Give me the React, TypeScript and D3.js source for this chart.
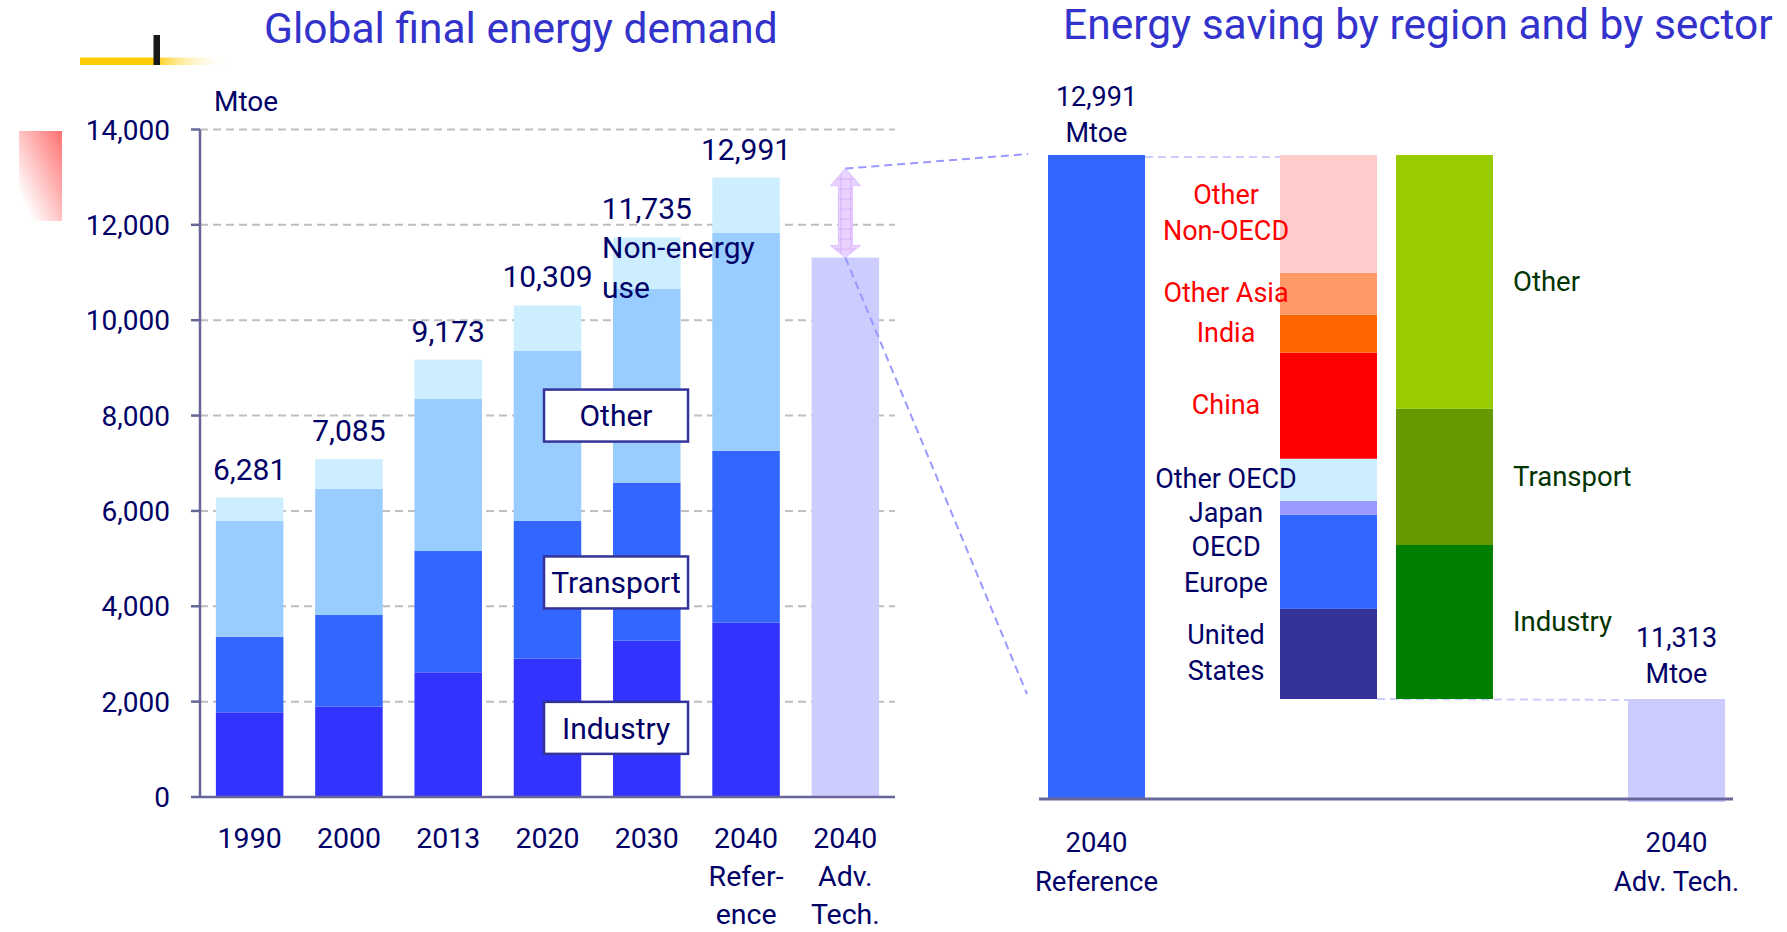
import * as d3 from 'd3';

// left chart: global final energy demand (Mtoe)
const years = ['1990', '2000', '2013', '2020', '2030', '2040R', '2040A'];
const xLabels = [['1990'], ['2000'], ['2013'], ['2020'], ['2030'], ['2040', 'Refer-', 'ence'], ['2040', 'Adv.', 'Tech.']];
const sectors = ['Industry', 'Transport', 'Other', 'Non-energy use'];
const industry = [1776, 1894, 2615, 2901, 3278, 3656];
const transport = [1586, 1923, 2544, 2888, 3308, 3607];
const other = [2427, 2649, 3188, 3565, 4068, 4566];
const nonEnergy = [492, 619, 826, 955, 1081, 1162];
const totals = [6281, 7085, 9173, 10309, 11735, 12991];
const advTech = 11313;
const yTicks = [0, 2000, 4000, 6000, 8000, 10000, 12000, 14000];
const sectorColors = ['#3333ff', '#3366ff', '#99ccff', '#cceeff'];

// right chart: energy saving 2040 reference -> advanced technologies
const regions = ['United States', 'OECD Europe', 'Japan', 'Other OECD', 'China', 'India', 'Other Asia', 'Other Non-OECD'];
const regionLines = [['United', 'States'], ['OECD', 'Europe'], ['Japan'], ['Other OECD'], ['China'], ['India'], ['Other Asia'], ['Other', 'Non-OECD']];
const regionSaving = [278, 290, 43, 130, 327, 117, 130, 363];
const regionColors = ['#333399', '#3366ff', '#9999ff', '#cceeff', '#ff0000', '#ff6600', '#ff9966', '#ffcccc'];
const regionTextColors = ['#000066', '#000066', '#000066', '#000066', '#ff0000', '#ff0000', '#ff0000', '#ff0000'];
const savingSectors = ['Industry', 'Transport', 'Other'];
const sectorSaving = [475, 420, 783];
const savingColors = ['#008000', '#669900', '#99cc00'];

const navy = '#000066';
const font = 'Roboto, "Open Sans", sans-serif';

export default function App() {
  const W = 1787, H = 932;

  // ---- left scales
  const xL = d3.scaleBand().domain(years).range([200, 895]).paddingInner(0.32).paddingOuter(0.16);
  const yL = d3.scaleLinear().domain([0, 14000]).range([797, 129.5]);
  const bw = xL.bandwidth();

  const rows = totals.map((t, i) => ({
    year: years[i],
    Industry: industry[i],
    Transport: transport[i],
    Other: other[i],
    'Non-energy use': nonEnergy[i],
  }));
  const stacked = d3.stack().keys(sectors)(rows as any);

  // ---- right scales
  const refTotal = totals[totals.length - 1];
  const xR = d3.scaleBand().domain(['ref', 'g1', 'region', 'sector', 'g2', 'adv']).range([1048, 1725]).paddingInner(0.164).paddingOuter(0);
  const yR = d3.scaleLinear().domain([advTech, refTotal]).range([699, 155]);
  const bwR = xR.bandwidth();
  const baseR = 799;

  const regionTop = d3.cumsum(regionSaving);
  const sectorTop = d3.cumsum(sectorSaving);

  // region label baselines: centred on segment, pushed down top-to-bottom so they don't collide
  const lineH = 36;
  const labelY: number[][] = [];
  let lastBase = -Infinity;
  for (let i = regions.length - 1; i >= 0; i--) {
    const y0 = yR(advTech + regionTop[i] - regionSaving[i]);
    const y1 = yR(advTech + regionTop[i]);
    const n = regionLines[i].length;
    let first = (y0 + y1) / 2 + 8 - (n - 1) * lineH / 2;
    if (first < lastBase + 34) first = lastBase + 34;
    labelY[i] = regionLines[i].map((_, j) => first + j * lineH);
    lastBase = first + (n - 1) * lineH;
  }

  const advX = xL('2040A')! + bw / 2;
  const arrowTop = yL(refTotal) - 9;
  const arrowBot = yL(advTech);
  const arrow = `M${advX},${arrowTop} L${advX + 15},${arrowTop + 17} L${advX + 7},${arrowTop + 17} L${advX + 7},${arrowBot - 12} L${advX + 15},${arrowBot - 12} L${advX},${arrowBot} L${advX - 15},${arrowBot - 12} L${advX - 7},${arrowBot - 12} L${advX - 7},${arrowTop + 17} L${advX - 15},${arrowTop + 17} Z`;

  const boxCx = xL('2030')! + 3;
  const boxes = [
    { label: sectors[2], v: 8000 },
    { label: sectors[1], v: 4500 },
    { label: sectors[0], v: 1450 },
  ];

  return (
    <svg width={W} height={H} style={{ position: 'absolute', left: 0, top: 0, display: 'block', background: '#fff' }} fontFamily={font}>
      <defs>
        <linearGradient id="yellowBar" x1="0" x2="1" y1="0" y2="0">
          <stop offset="0" stopColor="#ffcc00" />
          <stop offset="0.48" stopColor="#ffcc00" />
          <stop offset="1" stopColor="#ffffff" stopOpacity="0" />
        </linearGradient>
        <linearGradient id="pinkBox" x1="1" y1="0" x2="0" y2="1">
          <stop offset="0" stopColor="#ff7070" />
          <stop offset="0.85" stopColor="#ffffff" />
        </linearGradient>
        <pattern id="hatch" width="10" height="10" patternUnits="userSpaceOnUse" x={advX - 5} y={arrowTop}>
          <rect width="10" height="10" fill="#e8d2ff" />
          <path d="M0 0H10M0 0V10" stroke="#d2a8f6" strokeWidth="1.5" />
        </pattern>
      </defs>

      {/* slide decorations */}
      <rect x={80} y={57.5} width={150} height={7.5} fill="url(#yellowBar)" />
      <rect x={153.5} y={35} width={6.5} height={30} fill="#1a1a1a" />
      <rect x={19} y={131} width={43} height={90} fill="url(#pinkBox)" />

      {/* titles */}
      <text x={264} y={43} fontSize={42.5} fill="#3333cc">Global final energy demand</text>
      <text x={1063} y={39} fontSize={42.5} fill="#3333cc">Energy saving by region and by sector</text>

      {/* ---------- left chart ---------- */}
      <text x={214} y={111} fontSize={28} fill={navy}>Mtoe</text>
      {yTicks.filter(t => t > 0).map(t => (
        <line key={'g' + t} x1={200} x2={895} y1={yL(t)} y2={yL(t)} stroke="#bfbfbf" strokeWidth={2} strokeDasharray="8 5" />
      ))}
      {stacked.map((s, si) => (
        <g key={s.key} fill={sectorColors[si]}>
          {s.map((d: any) => (
            <rect key={d.data.year} x={xL(d.data.year)} y={yL(d[1])} width={bw} height={yL(d[0]) - yL(d[1])} />
          ))}
        </g>
      ))}
      <rect x={xL('2040A')} y={yL(advTech)} width={bw} height={yL(0) - yL(advTech)} fill="#ccccff" />

      <line x1={200} x2={200} y1={yL(14000)} y2={yL(0)} stroke="#666699" strokeWidth={2.5} />
      <line x1={200} x2={895} y1={yL(0)} y2={yL(0)} stroke="#666699" strokeWidth={2.5} />
      {yTicks.map(t => (
        <g key={'t' + t}>
          <line x1={191} x2={200} y1={yL(t)} y2={yL(t)} stroke="#666699" strokeWidth={2.5} />
          <text x={170} y={yL(t)} dy="0.36em" textAnchor="end" fontSize={28} fill={navy}>{d3.format(',')(t)}</text>
        </g>
      ))}
      {xLabels.map((lines, i) => (
        <text key={'xl' + i} x={xL(years[i])! + bw / 2} y={848} textAnchor="middle" fontSize={28.5} fill={navy}>
          {lines.map((l, j) => (
            <tspan key={j} x={xL(years[i])! + bw / 2} y={848 + j * 38}>{l}</tspan>
          ))}
        </text>
      ))}
      {totals.map((t, i) => (
        <text key={'v' + i} x={xL(years[i])! + bw / 2} y={yL(t) - 18} textAnchor="middle" fontSize={30} fill={navy}>{d3.format(',')(t)}</text>
      ))}

      <text x={xL('2030')! - 11} y={yL(totals[4]) + 21} fontSize={30} fill={navy}>
        <tspan x={xL('2030')! - 11}>Non-energy</tspan>
        <tspan x={xL('2030')! - 11} dy={40}>use</tspan>
      </text>
      {boxes.map(b => (
        <g key={b.label}>
          <rect x={boxCx - 72} y={yL(b.v) - 26} width={144} height={52} fill="#fff" stroke="#333399" strokeWidth={2.5} />
          <text x={boxCx} y={yL(b.v)} dy="0.36em" textAnchor="middle" fontSize={30} fill={navy}>{b.label}</text>
        </g>
      ))}

      <path d={arrow} fill="url(#hatch)" stroke="#e0c0ff" strokeWidth={1} />

      {/* connectors from left chart to right chart */}
      <line x1={advX} y1={arrowTop} x2={xR('ref')! - 20} y2={yR(refTotal) - 1} stroke="#9999ff" strokeWidth={2} strokeDasharray="8 5" />
      <line x1={advX} y1={arrowBot} x2={xR('ref')! - 21} y2={yR(advTech) - 5} stroke="#9999ff" strokeWidth={2} strokeDasharray="8 5" />

      {/* ---------- right chart ---------- */}
      <line x1={xR('ref')! + bwR} x2={xR('region')} y1={yR(refTotal) + 2} y2={yR(refTotal) + 2} stroke="#ccccff" strokeWidth={2} strokeDasharray="8 5" />
      <line x1={xR('region')! + bwR} x2={xR('adv')} y1={yR(advTech)} y2={yR(advTech) + 1} stroke="#ccccff" strokeWidth={2} strokeDasharray="8 5" />

      <rect x={xR('ref')} y={yR(refTotal)} width={bwR} height={baseR - 1 - yR(refTotal)} fill="#3366ff" />
      {regions.map((r, i) => {
        const y0 = yR(advTech + regionTop[i] - regionSaving[i]);
        const y1 = yR(advTech + regionTop[i]);
        const lx = xR('region')! - 54;
        return (
          <g key={r}>
            <rect x={xR('region')} y={y1} width={bwR} height={y0 - y1} fill={regionColors[i]} />
            <text textAnchor="middle" fontSize={27} fill={regionTextColors[i]}>
              {regionLines[i].map((l, j) => (
                <tspan key={j} x={lx} y={labelY[i][j]}>{l}</tspan>
              ))}
            </text>
          </g>
        );
      })}
      {savingSectors.map((s, i) => {
        const y0 = yR(advTech + sectorTop[i] - sectorSaving[i]);
        const y1 = yR(advTech + sectorTop[i]);
        return (
          <g key={s}>
            <rect x={xR('sector')} y={y1} width={bwR} height={y0 - y1} fill={savingColors[i]} />
            <text x={xR('sector')! + bwR + 20} y={(y0 + y1) / 2 + 9} fontSize={27.5} fill="#003300">{s}</text>
          </g>
        );
      })}
      <rect x={xR('adv')} y={yR(advTech)} width={bwR} height={baseR + 3 - yR(advTech)} fill="#ccccff" />
      <line x1={1039} x2={1733} y1={baseR} y2={baseR} stroke="#666699" strokeWidth={3} />

      <text textAnchor="middle" fontSize={27} fill={navy}>
        <tspan x={xR('ref')! + bwR / 2} y={yR(refTotal) - 49}>{d3.format(',')(refTotal)}</tspan>
        <tspan x={xR('ref')! + bwR / 2} y={yR(refTotal) - 13}>Mtoe</tspan>
      </text>
      <text textAnchor="middle" fontSize={27} fill={navy}>
        <tspan x={xR('adv')! + bwR / 2} y={yR(advTech) - 52}>{d3.format(',')(advTech)}</tspan>
        <tspan x={xR('adv')! + bwR / 2} y={yR(advTech) - 16}>Mtoe</tspan>
      </text>
      <text textAnchor="middle" fontSize={27.5} fill={navy}>
        <tspan x={xR('ref')! + bwR / 2} y={852}>2040</tspan>
        <tspan x={xR('ref')! + bwR / 2} y={891}>Reference</tspan>
      </text>
      <text textAnchor="middle" fontSize={27.5} fill={navy}>
        <tspan x={xR('adv')! + bwR / 2} y={852}>2040</tspan>
        <tspan x={xR('adv')! + bwR / 2} y={891}>Adv. Tech.</tspan>
      </text>
    </svg>
  );
}
